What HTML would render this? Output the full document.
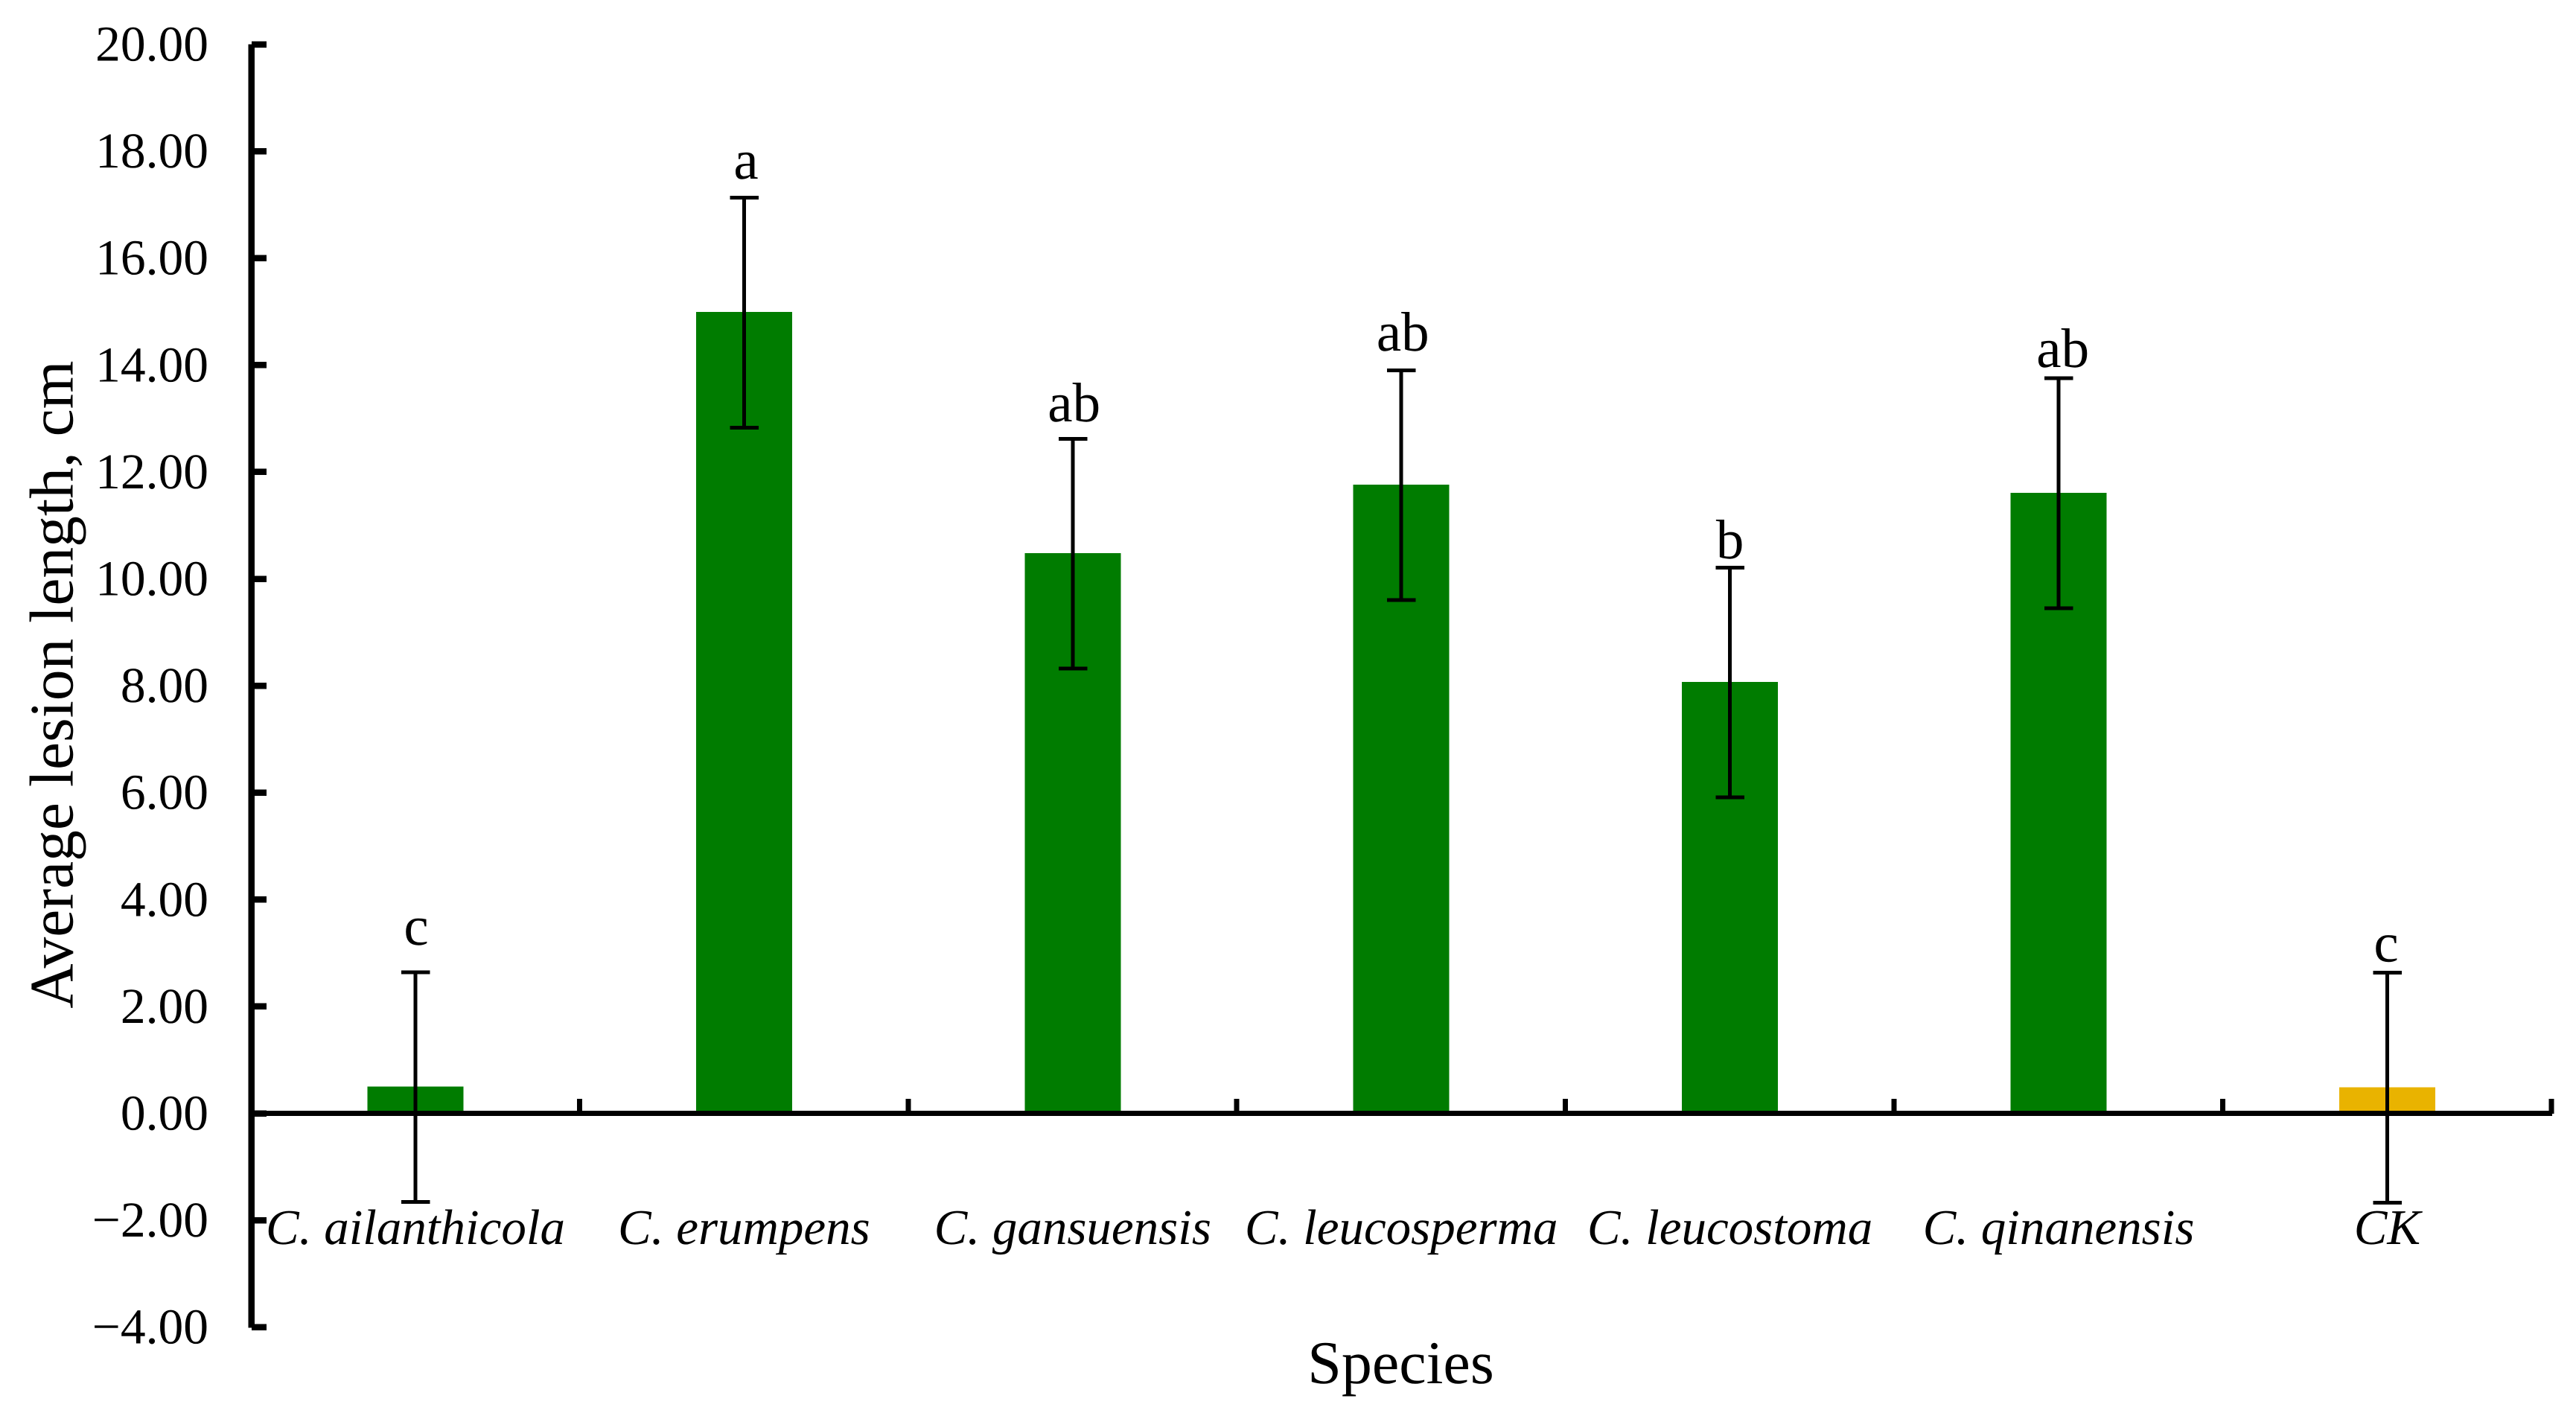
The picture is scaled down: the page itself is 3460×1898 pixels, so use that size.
<!DOCTYPE html>
<html lang="en">
<head>
<meta charset="utf-8">
<title>Average lesion length by species</title>
<style>
  html, body { margin: 0; padding: 0; background: #fff; }
  body { width: 3460px; height: 1898px; overflow: hidden; }
  svg { display: block; }
  text { font-family: "Liberation Serif", serif; fill: #000; text-rendering: geometricPrecision; }
</style>
</head>
<body>
<svg id="chart" xmlns="http://www.w3.org/2000/svg" width="3460" height="1898" viewBox="0 0 3460 1898">
  <rect x="0" y="0" width="3460" height="1898" fill="#ffffff"></rect>
  <text transform="translate(97.5 919.5) rotate(-90)" text-anchor="middle" font-size="83.5">Average lesion length, cm</text>
  <text x="1881.5" y="1858" text-anchor="middle" font-size="82">Species</text>
</svg>
<script>
const categories = ['C. ailanthicola', 'C. erumpens', 'C. gansuensis', 'C. leucosperma', 'C. leucostoma', 'C. qinanensis', 'CK'];
const meanLesion = [0.50, 14.99, 10.48, 11.76, 8.07, 11.61, 0.49];
const errorValues = [2.15, 2.15, 2.15, 2.15, 2.15, 2.15, 2.15];
const significance = ['c', 'a', 'ab', 'ab', 'b', 'ab', 'c'];
const tickValues = [20, 18, 16, 14, 12, 10, 8, 6, 4, 2, 0, -2, -4];
const tickLabels = ['20.00', '18.00', '16.00', '14.00', '12.00', '10.00', '8.00', '6.00', '4.00', '2.00', '0.00', '\u22122.00', '\u22124.00'];

const svg = document.getElementById('chart');
const NS = 'http://www.w3.org/2000/svg';

function yScale(v) { return 1495.5 - 71.8 * v; }
function xCenter(i) { return 558 + 441.4 * i; }
function xEdge(i) { return 337 + 441.4 * i; }

function makeRect(x, y, w, h, fill) {
  const r = document.createElementNS(NS, 'rect');
  r.setAttribute('x', x);
  r.setAttribute('y', y);
  r.setAttribute('width', w);
  r.setAttribute('height', h);
  r.setAttribute('fill', fill);
  r.setAttribute('shape-rendering', 'crispEdges');
  return r;
}

function makeText(x, y, size, anchor, content) {
  const t = document.createElementNS(NS, 'text');
  t.setAttribute('x', x);
  t.setAttribute('y', y);
  t.setAttribute('font-size', size);
  t.setAttribute('text-anchor', anchor);
  t.textContent = content;
  return t;
}

function drawBars() {
  categories.forEach(function (name, i) {
    const top = yScale(meanLesion[i]);
    const bar = makeRect(xCenter(i) - 64.5, top, 129, yScale(0) - top, name === 'CK' ? '#e9b300' : '#007c00');
    
    
    svg.appendChild(bar);
  });
}

function drawErrors() {
  const nudge = [[1, 37], [2.6, 25.5], [1.9, 23.5], [2.1, 26.5], [0, 12.5], [5.7, 15], [-1.4, 15]];
  categories.forEach(function (name, i) {
    const cy = yScale(meanLesion[i]) + 0.7;
    const half = errorValues[i] * 71.8;
    const cx = xCenter(i);

    const stem = makeRect(cx - 2.5, cy - half, 5, half * 2, '#000');
    
    
    svg.appendChild(stem);

    const capTop = makeRect(cx - 19, cy - half - 2.5, 38.5, 5, '#000');
    
    
    svg.appendChild(capTop);

    const capBottom = makeRect(cx - 19, cy + half - 2.5, 38.5, 5, '#000');
    
    
    svg.appendChild(capBottom);

    const letter = makeText(cx + nudge[i][0], cy - half - nudge[i][1], 75, 'middle', significance[i]);
    
    
    svg.appendChild(letter);
  });
}

function drawAxes() {
  const top = yScale(tickValues[0]);
  const bottom = yScale(tickValues[tickValues.length - 1]);

  const yAxis = makeRect(333.5, top, 8.5, bottom - top + 1, '#000');
  
  
  svg.appendChild(yAxis);

  tickValues.forEach(function (v, i) {
    const y = yScale(v);
    const tick = makeRect(338, y - 4.25, 20, 8.5, '#000');
    
    
    svg.appendChild(tick);

    const label = makeText(280, y + 22, 67.5, 'end', tickLabels[i]);
    
    
    svg.appendChild(label);
  });

  const xAxis = makeRect(337, 1492, xEdge(categories.length) - 337 + 1, 7, '#000');
  
  
  svg.appendChild(xAxis);

  categories.forEach(function (name, i) {
    const tick = makeRect(xEdge(i + 1) - 3.5, 1476, 7, 20, '#000');
    
    
    svg.appendChild(tick);

    const label = makeText(xCenter(i), 1671, 67, 'middle', name);
    label.setAttribute('font-style', 'italic');
    
    
    svg.appendChild(label);
  });
}

drawBars();
drawErrors();
drawAxes();
</script>
</body>
</html>
